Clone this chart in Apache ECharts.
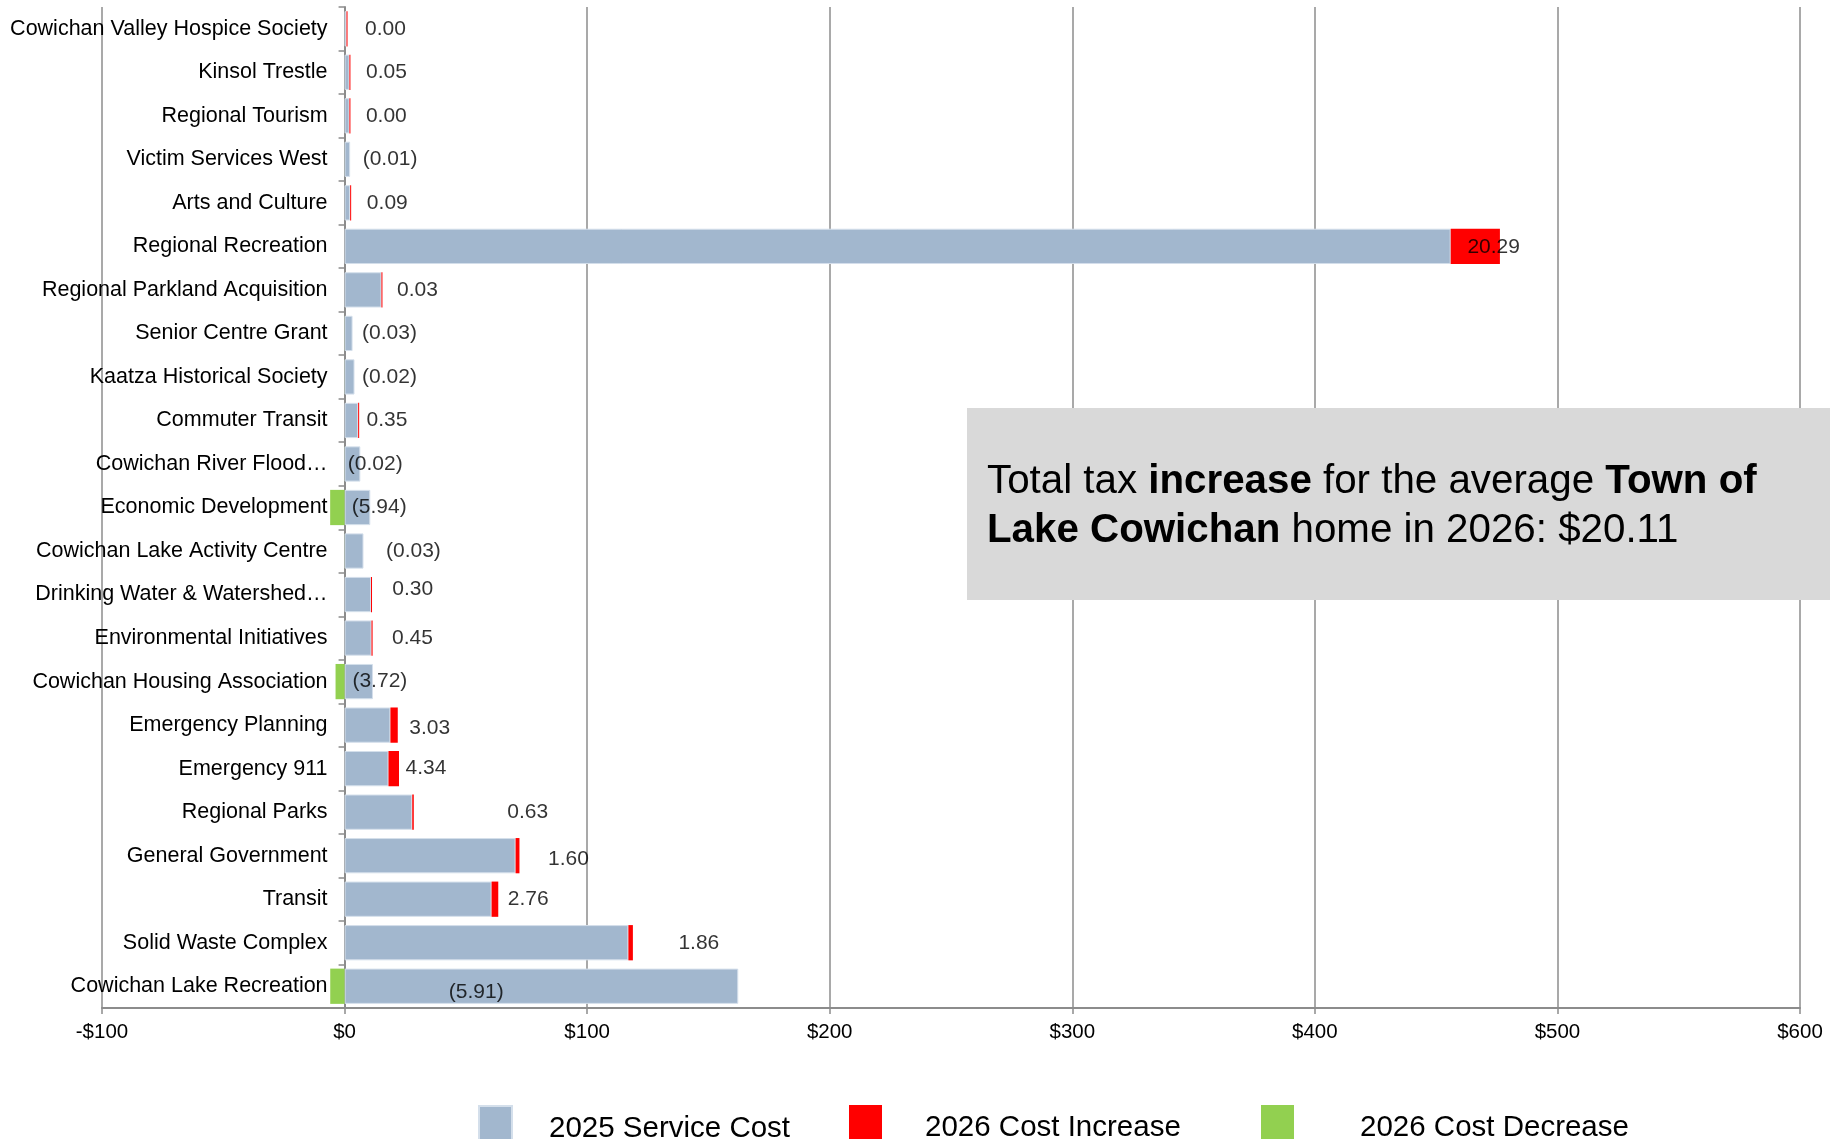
<!DOCTYPE html>
<html>
<head>
<meta charset="utf-8">
<script src="https://cdn.jsdelivr.net/npm/echarts@6/dist/echarts.min.js"></script>
<style>
html,body{margin:0;padding:0;background:#fff;}
#chart{width:1843px;height:1139px;}
</style>
</head>
<body>
<div id="chart"></div>
<script>
// ---- data (top to bottom as shown) ----
const categories = [
  'Cowichan Valley Hospice Society',
  'Kinsol Trestle',
  'Regional Tourism',
  'Victim Services West',
  'Arts and Culture',
  'Regional Recreation',
  'Regional Parkland Acquisition',
  'Senior Centre Grant',
  'Kaatza Historical Society',
  'Commuter Transit',
  'Cowichan River Flood…',
  'Economic Development',
  'Cowichan Lake Activity Centre',
  'Drinking Water & Watershed…',
  'Environmental Initiatives',
  'Cowichan Housing Association',
  'Emergency Planning',
  'Emergency 911',
  'Regional Parks',
  'General Government',
  'Transit',
  'Solid Waste Complex',
  'Cowichan Lake Recreation'
];
const serviceCost2025 = [0.8, 2.0, 2.0, 2.3, 2.3, 456, 15.2, 3.3, 4.1, 5.6, 6.5, 10.6, 7.8, 10.9, 11.1, 11.7, 18.9, 18.1, 27.9, 70.5, 60.6, 117.0, 162.3];
const costChange2026 = [0.00, 0.05, 0.00, -0.01, 0.09, 20.29, 0.03, -0.03, -0.02, 0.35, -0.02, -5.94, -0.03, 0.30, 0.45, -3.72, 3.03, 4.34, 0.63, 1.60, 2.76, 1.86, -5.91];
const seriesNames = ['2025 Service Cost', '2026 Cost Increase', '2026 Cost Decrease'];
const xTicks = { min: -100, max: 600, step: 100 };

// ---- layout only: label nudges in pixels [dx, dy] ----
const labelShift = [
  [18,0],[16,0],[16,0],[12,0],[16,0],[-33,1],[15,0],[9,0],[7,0],[7,0],
  [-13,0],[-19,0],[22,0],[20,-5],[19,0],[-21,0],[11,3],[6,0],[93,0],[28,4],
  [9,0],[45,0],[-290,6]
];

const increase = costChange2026.map(v => v >= 0 ? v : '-');
const decrease = costChange2026.map(v => v < 0 ? v : '-');
const fmt = v => v < 0 ? '(' + Math.abs(v).toFixed(2) + ')' : v.toFixed(2);
const labelPoints = categories.map((c, i) => ({
  value: [serviceCost2025[i] + Math.max(costChange2026[i], 0), c, costChange2026[i]],
  label: { offset: labelShift[i] }
}));

const FONT = '"Liberation Sans", Arial, sans-serif';
const GRID_COLOR = '#8c8c8c';
const W = 1843, GL = 102, GR = 43;
// pixel offset that moves the category axis onto x = 0
const zeroShift = (W - GL - GR) * (0 - xTicks.min) / (xTicks.max - xTicks.min);

const legendColors = ['#a2b7ce', '#ff0000', '#92d050'];
const legendPos = [[478, 32], [849, 38], [1261, 61]];

const chart = echarts.init(document.getElementById('chart'), null, { renderer: 'canvas' });
chart.setOption({
  backgroundColor: '#ffffff',
  animation: false,
  textStyle: { fontFamily: FONT },
  grid: { left: GL, right: GR, top: 7, bottom: 131, containLabel: false, outerBoundsMode: 'none' },
  xAxis: {
    type: 'value',
    min: xTicks.min, max: xTicks.max, interval: xTicks.step,
    axisLine: { show: true, onZero: false, lineStyle: { color: GRID_COLOR, width: 2 } },
    axisTick: { show: true, length: 6, lineStyle: { color: GRID_COLOR, width: 1.5 } },
    splitLine: { show: true, lineStyle: { color: GRID_COLOR, width: 1.5 } },
    axisLabel: {
      color: '#000', fontSize: 20.5, fontFamily: FONT, margin: 14,
      formatter: v => (v < 0 ? '-$' + Math.abs(v) : '$' + v)
    }
  },
  yAxis: {
    type: 'category',
    data: categories,
    inverse: true,
    offset: -zeroShift,
    axisLine: { show: true, onZero: false, lineStyle: { color: GRID_COLOR, width: 2 } },
    axisTick: { show: true, length: 6, lineStyle: { color: GRID_COLOR, width: 1.5 } },
    axisLabel: { color: '#000', fontSize: 21.5, fontFamily: FONT, margin: 17 },
    splitLine: { show: false }
  },
  legend: seriesNames.map((n, i) => ({
    data: [n],
    left: legendPos[i][0], top: 1105, padding: 0,
    itemWidth: 33, itemHeight: 35,
    icon: 'rect',
    formatter: name => '{t|' + name + '}',
    textStyle: {
      fontSize: 29.5, color: '#000', fontFamily: FONT,
      rich: { t: { fontSize: 29.5, color: '#000', fontFamily: FONT, padding: [10, 0, 0, legendPos[i][1]] } }
    }
  })),
  series: [
    {
      name: seriesNames[0], type: 'bar', stack: 'cost',
      data: serviceCost2025, barCategoryGap: '19%',
      itemStyle: { color: legendColors[0], borderColor: '#d4dfeb', borderWidth: 1 }
    },
    {
      name: seriesNames[1], type: 'bar', stack: 'cost',
      data: increase, barMinHeight: 1,
      itemStyle: { color: legendColors[1] }
    },
    {
      name: seriesNames[2], type: 'bar', stack: 'cost',
      data: decrease,
      itemStyle: { color: legendColors[2] }
    },
    {
      name: 'labels', type: 'scatter',
      data: labelPoints, symbolSize: 1,
      itemStyle: { color: 'rgba(0,0,0,0)' },
      silent: true, z: 10,
      label: {
        show: true, position: 'right', distance: 0,
        color: '#000', fontSize: 21, fontFamily: FONT,
        formatter: p => fmt(p.value[2])
      }
    }
  ],
  graphic: [
    {
      type: 'rect', z: 100,
      shape: { x: 967, y: 408, width: 863, height: 192 },
      style: { fill: '#d9d9d9' }
    },
    {
      type: 'text', z: 101,
      x: 987, y: 457,
      style: {
        text: '{n|Total tax }{b|increase}{n| for the average }{b|Town of}\n{b|Lake Cowichan}{n| home in 2026: $20.11}',
        fontFamily: FONT,
        rich: {
          n: { fontSize: 40.3, fontFamily: FONT, color: '#000', lineHeight: 49 },
          b: { fontSize: 40.3, fontFamily: FONT, color: '#000', fontWeight: 'bold', lineHeight: 49 }
        }
      }
    }
  ]
});
</script>
</body>
</html>
